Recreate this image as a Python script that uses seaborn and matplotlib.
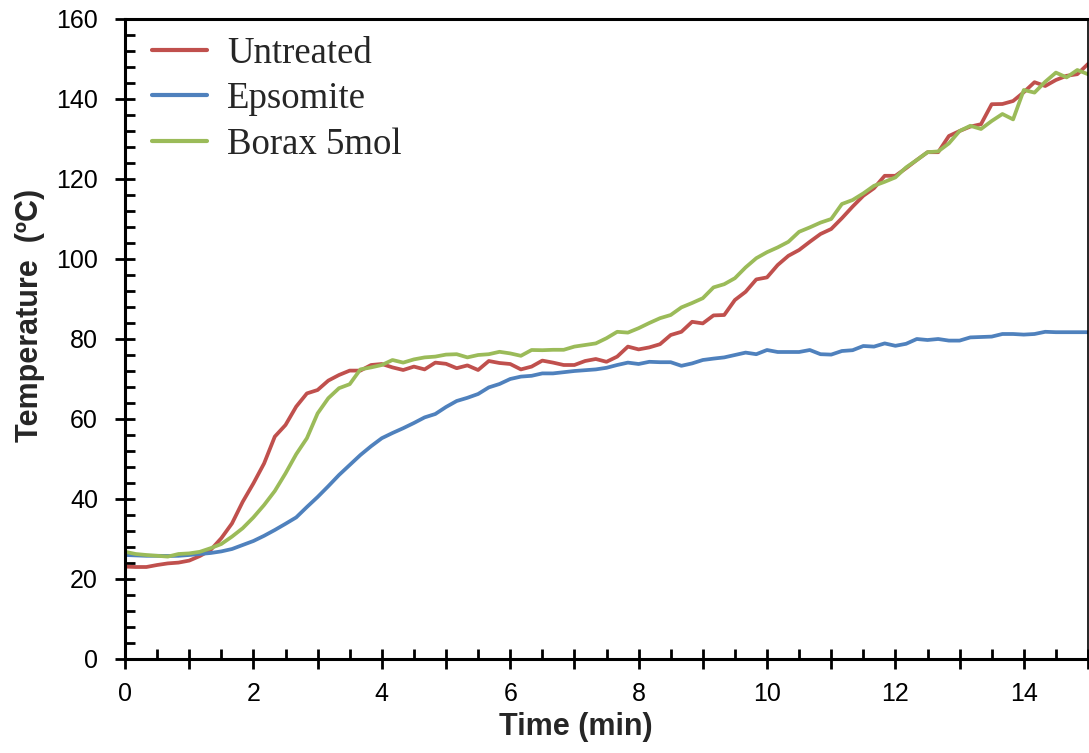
import numpy as np
import pandas as pd
import matplotlib
matplotlib.use("Agg")
import matplotlib.pyplot as plt
import seaborn as sns
from matplotlib.ticker import FixedLocator, FuncFormatter, MultipleLocator

time_min = [i / 6 for i in range(91)]

untreated = [23.1, 23.0, 23.0, 23.5, 23.9, 24.1, 24.6, 25.75, 27.25, 30.2,
             33.9, 39.3, 43.9, 48.9, 55.6, 58.5, 63.1, 66.4, 67.25, 69.6,
             71.0, 72.1, 72.1, 73.5, 73.75, 72.9, 72.25, 73.1, 72.4, 74.1,
             73.8, 72.7, 73.4, 72.25, 74.5, 74.0, 73.75, 72.4, 73.1, 74.6,
             74.1, 73.5, 73.5, 74.5, 75.0, 74.3, 75.6, 78.1, 77.4, 77.9,
             78.7, 81.0, 81.8, 84.3, 83.9, 85.9, 86.0, 89.75, 91.8, 94.9,
             95.4, 98.5, 100.8, 102.25, 104.3, 106.25, 107.5, 110.2, 113.1, 115.8,
             117.7, 120.8, 120.8, 122.7, 124.75, 126.7, 126.7, 130.75, 132.0, 133.1,
             133.7, 138.7, 138.75, 139.5, 141.7, 144.2, 143.25, 144.75, 145.8, 146.2,
             148.75]

epsomite = [26.0, 25.9, 25.8, 25.8, 25.75, 25.8, 26.0, 26.25, 26.5, 26.9,
            27.5, 28.5, 29.5, 30.8, 32.25, 33.8, 35.4, 38.0, 40.5, 43.2,
            46.0, 48.5, 51.0, 53.2, 55.2, 56.5, 57.7, 59.0, 60.4, 61.25,
            63.0, 64.5, 65.3, 66.25, 67.9, 68.75, 70.0, 70.6, 70.8, 71.4,
            71.4, 71.7, 72.0, 72.2, 72.4, 72.8, 73.5, 74.1, 73.75, 74.3,
            74.2, 74.2, 73.3, 73.9, 74.75, 75.1, 75.4, 76.0, 76.6, 76.2,
            77.25, 76.75, 76.75, 76.75, 77.25, 76.2, 76.1, 77.0, 77.2, 78.25,
            78.1, 78.9, 78.3, 78.8, 80.0, 79.75, 80.0, 79.6, 79.6, 80.4,
            80.5, 80.6, 81.25, 81.25, 81.1, 81.25, 81.8, 81.7, 81.7, 81.7,
            81.7]

borax = [26.8, 26.25, 26.0, 25.8, 25.6, 26.25, 26.4, 26.8, 27.7, 28.75,
         30.6, 32.7, 35.4, 38.5, 42.0, 46.4, 51.2, 55.2, 61.4, 65.2,
         67.7, 68.7, 72.4, 72.9, 73.5, 74.75, 74.1, 74.9, 75.4, 75.6,
         76.1, 76.2, 75.4, 76.0, 76.2, 76.8, 76.4, 75.8, 77.25, 77.2,
         77.3, 77.3, 78.1, 78.5, 78.9, 80.2, 81.8, 81.6, 82.7, 84.0,
         85.2, 86.0, 87.9, 89.0, 90.2, 92.9, 93.7, 95.2, 97.9, 100.2,
         101.7, 102.9, 104.3, 106.8, 107.9, 109.1, 110.0, 113.75, 114.75, 116.4,
         118.3, 119.3, 120.4, 122.9, 124.75, 126.7, 126.9, 128.9, 132.0, 133.3,
         132.5, 134.5, 136.25, 134.9, 142.25, 141.6, 144.3, 146.6, 145.4, 147.25,
         146.2]

series_names = ["Untreated", "Epsomite", "Borax 5mol"]
series_colors = ["#C0504D", "#4F81BD", "#9BBB59"]

x_major = list(range(0, 16))
y_major = [0, 20, 40, 60, 80, 100, 120, 140, 160]

# ---- build long-form table ----
frames = []
for name, vals in zip(series_names, [untreated, epsomite, borax]):
    frames.append(pd.DataFrame({"Time": time_min, "Temp": vals, "Sample": name}))
df = pd.concat(frames, ignore_index=True)

sns.set_style("white")
plt.rcParams["font.family"] = ["Liberation Sans", "DejaVu Sans"]

fig = plt.figure(figsize=(10.89, 7.53), dpi=100)
ax = fig.add_axes([125 / 1089, 1 - 659 / 753, 963 / 1089, 640 / 753])

sns.lineplot(data=df, x="Time", y="Temp", hue="Sample", hue_order=series_names,
             palette=series_colors, linewidth=2.7, ax=ax, legend=True)

ax.set_xlim(0, 15)
ax.set_ylim(0, 160)

ax.xaxis.set_major_locator(FixedLocator(x_major))
ax.xaxis.set_major_formatter(FuncFormatter(lambda v, p: f"{int(v)}" if int(round(v)) % 2 == 0 and int(round(v)) < 15 else ""))
ax.xaxis.set_minor_locator(MultipleLocator(0.5))
ax.yaxis.set_major_locator(FixedLocator(y_major))
ax.yaxis.set_minor_locator(MultipleLocator(4))

ax.tick_params(axis="both", which="major", direction="inout", length=15, width=2,
               labelsize=18, color="black", labelcolor="black")
ax.tick_params(axis="x", which="major", pad=9)
ax.tick_params(axis="y", which="major", pad=12)
ax.tick_params(axis="both", which="minor", direction="in", length=7, width=2, color="black")
ax.tick_params(bottom=True, left=True, which="both")

for side, sp in ax.spines.items():
    sp.set_visible(True)
    sp.set_color("black")
    sp.set_linewidth(2.2)
ax.spines["right"].set_linewidth(1.2)

ax.set_xlabel("Time (min)", fontsize=22, fontweight="bold")
ax.set_ylabel("Temperature  (ºC)", fontsize=22, fontweight="bold")
ax.xaxis.set_label_coords(0.468, -0.083)
ax.yaxis.set_label_coords(-0.083, 0.5375)

leg = ax.legend(loc="upper left", bbox_to_anchor=(0.028, 0.973), frameon=False,
                prop={"family": "Liberation Serif", "size": 26.5},
                handlelength=1.5, handletextpad=0.55, labelspacing=0.3,
                borderpad=0, borderaxespad=0)
for line in leg.get_lines():
    line.set_linewidth(3)

ax.grid(False)
fig.savefig("out.png", dpi=100)
